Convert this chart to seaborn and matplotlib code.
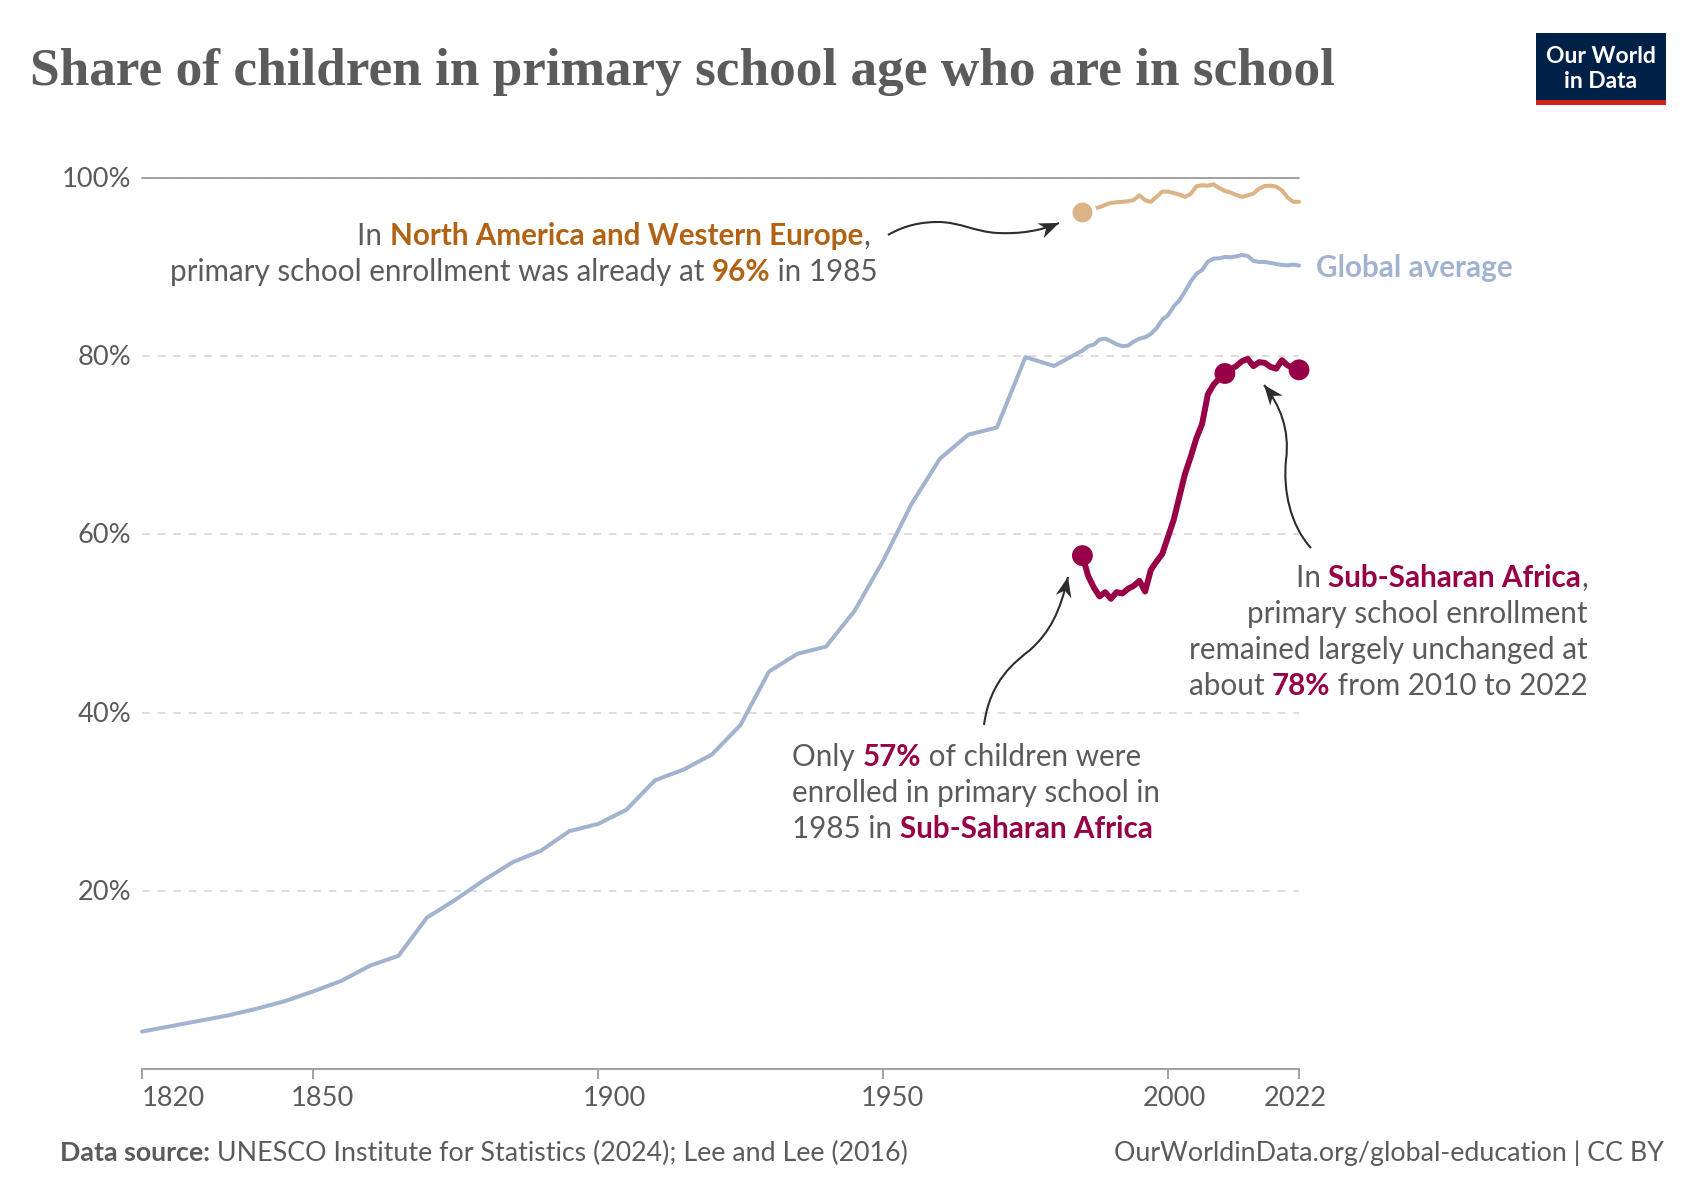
import numpy as np
import pandas as pd
import matplotlib
matplotlib.use("Agg")
import matplotlib.pyplot as plt
import seaborn as sns
from matplotlib.patches import PathPatch, Polygon, Rectangle
from matplotlib.path import Path
from matplotlib.transforms import Affine2D, ScaledTranslation

# -----------------------------
# Data
# -----------------------------
world_early_years = [1820, 1825, 1830, 1835, 1840, 1845, 1850, 1855, 1860, 1865, 1870, 1875,
                     1880, 1885, 1890, 1895, 1900, 1905, 1910, 1915, 1920, 1925, 1930, 1935,
                     1940, 1945, 1950, 1955, 1960, 1965, 1970, 1975, 1980]
world_early = [4.2, 4.8, 5.4, 6.0, 6.75, 7.6, 8.7, 9.9, 11.6, 12.7, 17.0, 19.0,
               21.2, 23.2, 24.5, 26.7, 27.5, 29.1, 32.4, 33.6, 35.3, 38.6, 44.6, 46.6,
               47.4, 51.4, 57.0, 63.4, 68.5, 71.2, 72.0, 79.9, 78.9]
annual_years = list(range(1985, 2024))
world_annual = [80.63, 81.12, 81.30, 81.86, 81.97, 81.68, 81.34, 81.12, 81.19, 81.64,
                81.97, 82.12, 82.50, 83.13, 84.10, 84.58, 85.59, 86.26, 87.26, 88.38,
                89.24, 89.68, 90.61, 90.95, 90.99, 91.14, 91.10, 91.21, 91.36, 91.25,
                90.69, 90.58, 90.58, 90.47, 90.35, 90.24, 90.20, 90.28, 90.17]
nawe = [96.20, 96.42, 96.57, 96.72, 96.98, 97.21, 97.28, 97.32, 97.39, 97.54,
        98.06, 97.50, 97.32, 97.88, 98.47, 98.47, 98.32, 98.14, 97.88, 98.21,
        99.07, 99.18, 99.14, 99.29, 98.88, 98.55, 98.36, 98.10, 97.88, 98.06,
        98.25, 98.81, 99.11, 99.14, 99.03, 98.62, 97.80, 97.32, 97.32]
ssa = [57.62, 55.34, 54.04, 53.04, 53.52, 52.77, 53.52, 53.37, 53.89, 54.23,
       54.79, 53.59, 56.01, 56.95, 57.80, 59.7, 61.6, 64.2, 66.8, 68.7,
       70.8, 72.4, 75.7, 76.8, 77.5, 78.06, 78.5, 78.9, 79.44, 79.7,
       78.88, 79.33, 79.25, 78.8, 78.6, 79.55, 78.96, 78.7, 78.47]
nawe_dot_years = [1985]
ssa_dot_years = [1985, 2010, 2023]
ytick_values = [20, 40, 60, 80, 100]
xtick_years = [1820, 1850, 1900, 1950, 2000, 2023]
xtick_labels = ["1820", "1850", "1900", "1950", "2000", "2022"]

BLUE = "#a2b3d0"
TAN = "#dcb287"
RED = "#970046"
ORANGE = "#b16214"
GREY = "#5b5b5b"
AXIS = "#a1a1a1"
ARROW = "#2d2d2d"

sns.set_theme(style="white")
plt.rcParams["font.family"] = ["Lato", "DejaVu Sans"]

W, H = 1700, 1200
fig = plt.figure(figsize=(W / 100, H / 100), dpi=100, facecolor="white")
# pixel coordinates, y pointing down
px = Affine2D().scale(1 / W, -1 / H).translate(0, 1) + fig.transFigure

left, right, top, bottom = 142, 1299, 178, 1069
ax = fig.add_axes([left / W, 1 - bottom / H, (right - left) / W, (bottom - top) / H])

world = pd.DataFrame({"year": world_early_years + annual_years, "share": world_early + world_annual})
regions = pd.DataFrame({"year": annual_years, "nawe": nawe, "ssa": ssa})

# -----------------------------
# Lines and dots
# -----------------------------
sns.lineplot(data=world, x="year", y="share", color=BLUE, lw=2.9, estimator=None, ax=ax, clip_on=False)
sns.lineplot(data=regions, x="year", y="nawe", color=TAN, lw=2.9, estimator=None, ax=ax, clip_on=False)
sns.lineplot(data=regions, x="year", y="ssa", color=RED, lw=4.3, estimator=None, ax=ax, clip_on=False)

dots_a = regions[regions["year"].isin(nawe_dot_years)]
dots_b = regions[regions["year"].isin(ssa_dot_years)]
sns.scatterplot(data=dots_a, x="year", y="nawe", color=TAN, s=300, edgecolor="white", linewidth=3,
                ax=ax, zorder=5, clip_on=False)
sns.scatterplot(data=dots_b, x="year", y="ssa", color=RED, s=225, edgecolor="none",
                ax=ax, zorder=5, clip_on=False)

# -----------------------------
# Axes
# -----------------------------
ax.set_xlim(1820, 2023)
ax.set_ylim(0, 100)
ax.set_xlabel("")
ax.set_ylabel("")
sns.despine(ax=ax, left=True, right=True, top=True)
ax.spines["bottom"].set_color(AXIS)
ax.spines["bottom"].set_linewidth(1.4)

ax.set_yticks(ytick_values)
ax.set_yticklabels([f"{v}%" for v in ytick_values], color=GREY, fontsize=19.6)
ax.tick_params(axis="y", length=0, pad=7.5)
ax.yaxis.grid(True, color="#dddddd", linestyle=(0, (4, 4)), linewidth=1.4)
ax.set_axisbelow(True)
ax.axhline(100, color=AXIS, lw=1.4, zorder=1, clip_on=False)
for lab in ax.get_yticklabels():
    lab.set_transform(lab.get_transform() + ScaledTranslation(0, 1 / 100, fig.dpi_scale_trans))

ax.set_xticks(xtick_years)
ax.set_xticklabels(xtick_labels, color=GREY, fontsize=19.6)
ax.tick_params(axis="x", length=7.2, width=1.4, color=AXIS, pad=5, bottom=True)
# tick labels in the original sit off their ticks, shift them by hand
label_shift = [31, 9, 17, 10, 7, -4]
for lab, dx in zip(ax.get_xticklabels(), label_shift):
    lab.set_transform(lab.get_transform() + ScaledTranslation(dx / 100, 0, fig.dpi_scale_trans))

# -----------------------------
# Rich text helper
# -----------------------------
def rich_line(x, y, parts, size=21.35, align="left"):
    # parts = (text, color, bold); x,y in pixels, y is the baseline
    renderer = fig.canvas.get_renderer()
    widths = []
    for s, c, b in parts:
        t = fig.text(0, 0, s.replace(" ", "\u00a0"), fontsize=size, fontweight="bold" if b else "normal")
        widths.append(t.get_window_extent(renderer).width)
        t.remove()
    cur = x - sum(widths) if align == "right" else x
    for (s, c, b), w in zip(parts, widths):
        fig.text(cur, y, s.replace(" ", "\u00a0"), color=c, fontsize=size, fontweight="bold" if b else "normal",
                 transform=px, va="baseline", ha="left")
        cur += w

# -----------------------------
# Header and footer
# -----------------------------
fig.text(30, 85, "Share of children in primary school age who are in school", transform=px,
         family=["Liberation Serif", "DejaVu Serif"], fontweight="bold", fontsize=38.3, color=GREY, va="baseline")
fig.add_artist(Rectangle((1536, 33), 130, 72, transform=px, facecolor="#002147", edgecolor="none"))
fig.add_artist(Rectangle((1536, 100), 130, 5, transform=px, facecolor="#ce261e", edgecolor="none"))
fig.text(1601, 63, "Our World", transform=px, color="white", fontsize=16.5, fontweight="bold", ha="center", va="baseline")
fig.text(1601, 88, "in Data", transform=px, color="white", fontsize=16.5, fontweight="bold", ha="center", va="baseline")

rich_line(60, 1161, [("Data source:", GREY, True), (" UNESCO Institute for Statistics (2024); Lee and Lee (2016)", GREY, False)], size=19.3)
rich_line(1664, 1161, [("OurWorldinData.org/global-education | CC BY", GREY, False)], size=19.25, align="right")

# -----------------------------
# Annotations
# -----------------------------
rich_line(870, 245, [("In ", GREY, False), ("North America and Western Europe", ORANGE, True), (",", GREY, False)], align="right")
rich_line(878, 281, [("primary school enrollment was already at ", GREY, False), ("96%", ORANGE, True), (" in 1985", GREY, False)], align="right")

rich_line(1588, 587, [("In ", GREY, False), ("Sub-Saharan Africa", RED, True), (",", GREY, False)], align="right")
rich_line(1588, 623, [("primary school enrollment", GREY, False)], align="right")
rich_line(1588, 659, [("remained largely unchanged at", GREY, False)], align="right")
rich_line(1588, 695, [("about ", GREY, False), ("78%", RED, True), (" from 2010 to 2022", GREY, False)], align="right")

rich_line(792, 766, [("Only ", GREY, False), ("57%", RED, True), (" of children were", GREY, False)])
rich_line(792, 802, [("enrolled in primary school in", GREY, False)])
rich_line(792, 838, [("1985 in ", GREY, False), ("Sub-Saharan Africa", RED, True)])

rich_line(1316, 277, [("Global average", BLUE, True)])

def arrow(verts):
    # curve first, then a notched head sitting on the last point
    codes = [Path.MOVETO] + [Path.CURVE4] * (len(verts) - 1)
    fig.add_artist(PathPatch(Path(verts, codes), transform=px, facecolor="none", edgecolor=ARROW, lw=1.5))
    tip = np.array(verts[-1], dtype=float)
    d = tip - np.array(verts[-2], dtype=float)
    d = d / np.hypot(*d)
    n = np.array([-d[1], d[0]])
    head = [tip, tip - 20 * d + 8 * n, tip - 14 * d, tip - 20 * d - 8 * n]
    fig.add_artist(Polygon(head, closed=True, transform=px, facecolor=ARROW, edgecolor="none"))

arrow([(888, 235), (905, 225), (922, 222), (938, 222), (960, 222), (975, 232), (998, 233), (1020, 234), (1040, 231), (1059, 223)])
arrow([(984, 725), (990, 680), (1015, 662), (1030, 650), (1050, 632), (1060, 612), (1068, 577)])
arrow([(1311, 548), (1290, 525), (1283, 490), (1286, 460), (1290, 430), (1280, 405), (1264, 385)])

fig.savefig("out.png", dpi=100, facecolor="white")
